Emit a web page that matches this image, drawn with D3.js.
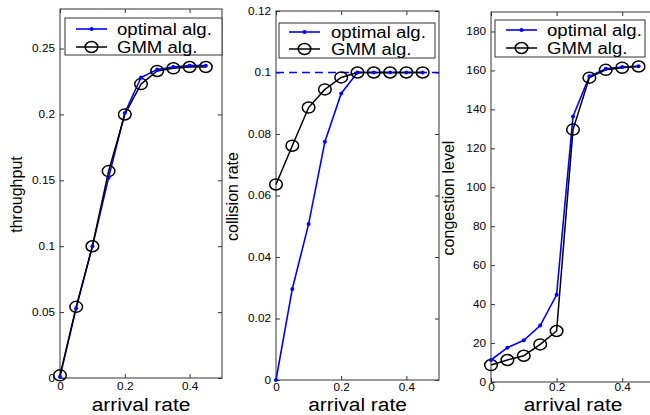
<!DOCTYPE html>
<html><head><meta charset="utf-8">
<script src="https://cdn.jsdelivr.net/npm/d3@7"></script>
<style>html,body{margin:0;padding:0;background:#fff;overflow:hidden}svg{display:block}text{font-family:"Liberation Sans",Arial,sans-serif;fill:#000}</style>
</head><body><svg id="c" width="650" height="415"></svg>
<script>
// ---- data ----
const arrivalRate=[0,0.05,0.1,0.15,0.2,0.25,0.3,0.35,0.4,0.45];
const throughputOptimal=[0.001,0.053,0.1,0.152,0.201,0.228,0.234,0.236,0.237,0.237];
const throughputGMM=[0.002,0.054,0.1,0.157,0.2,0.223,0.233,0.235,0.236,0.236];
const collisionOptimal=[0,0.0296,0.0507,0.0775,0.0932,0.1,0.1,0.1,0.1,0.1];
const collisionGMM=[0.0636,0.0762,0.0886,0.0945,0.0984,0.1,0.1,0.1,0.1,0.1];
const collisionCap=0.1;
const congestionOptimal=[11.3,17.6,21.4,29,44.8,136.4,157,160.8,161.7,162.2];
const congestionGMM=[8.7,11.3,13.5,19.3,26.2,129.6,156.3,160.3,161.4,162];
const xTicks=[0,0.2,0.4];
const xTickLabels=["0","0.2","0.4"];
const throughputTicks=[0,0.05,0.1,0.15,0.2,0.25];
const throughputTickLabels=["0","0.05","0.1","0.15","0.2","0.25"];
const collisionTicks=[0,0.02,0.04,0.06,0.08,0.1,0.12];
const collisionTickLabels=["0","0.02","0.04","0.06","0.08","0.1","0.12"];
const congestionTicks=[0,20,40,60,80,100,120,140,160,180];
const congestionTickLabels=["0","20","40","60","80","100","120","140","160","180"];
const legendLabels=["optimal alg.","GMM alg."];
const yLabels=["throughput","collision rate","congestion level"];
const xLabel="arrival rate";

// ---- layout ----
const svg=d3.select("#c");
const axisColor="#333";
const blue="#0000ff";
const panels=[
 {l:60,r:222,t:9,b:378,xmax:0.5,ymax:0.28,ticks:throughputTicks,tickLabels:throughputTickLabels,opt:throughputOptimal,gmm:throughputGMM,ylab:yLabels[0],ylx:22,xtOff:5,
  leg:{x:65,y:18,w:157,h:37,r1:29,r2:47,lx:76,tx:117}},
 {l:276,r:439,t:11,b:380,xmax:0.5,ymax:0.12,ticks:collisionTicks,tickLabels:collisionTickLabels,opt:collisionOptimal,gmm:collisionGMM,ylab:yLabels[1],ylx:238,cap:collisionCap,xtOff:4,
  leg:{x:279,y:23,w:156,h:35,r1:32,r2:49,lx:289,tx:331}},
 {l:491,r:655,t:12,b:382,xmax:0.5,ymax:190,ticks:congestionTicks,tickLabels:congestionTickLabels,opt:congestionOptimal,gmm:congestionGMM,ylab:yLabels[2],ylx:454,xtOff:2,
  leg:{x:495,y:20,w:150,h:37,r1:30,r2:48,lx:506,tx:547}}
];

function drawPanel(c){
  const x=d3.scaleLinear().domain([0,c.xmax]).range([c.l,c.r]);
  const y=d3.scaleLinear().domain([0,c.ymax]).range([c.b,c.t]);
  const g=svg.append("g");
  g.append("rect").attr("x",c.l).attr("y",c.t).attr("width",c.r-c.l).attr("height",c.b-c.t)
    .attr("fill","none").attr("stroke",axisColor).attr("stroke-width",1);

  const styleAxis=(sel)=>{sel.select(".domain").remove();sel.selectAll("line").attr("stroke",axisColor);sel.attr("font-family",null).attr("font-size",null);};
  // bottom
  const gb=g.append("g").attr("transform",`translate(0,${c.b})`)
    .call(d3.axisBottom(x).tickValues(xTicks).tickSize(-4).tickSizeOuter(0).tickFormat((d,i)=>xTickLabels[i]));
  styleAxis(gb);
  gb.selectAll("text").attr("y",0).attr("dy","0.71em").attr("font-size",10)
    .attr("transform",`translate(0,${c.xtOff}) scale(1.18,1)`);
  // top
  const gt=g.append("g").attr("transform",`translate(0,${c.t})`)
    .call(d3.axisTop(x).tickValues(xTicks).tickSize(-4).tickSizeOuter(0).tickFormat(""));
  styleAxis(gt);
  // left
  const gl=g.append("g").attr("transform",`translate(${c.l},0)`)
    .call(d3.axisLeft(y).tickValues(c.ticks).tickSize(-4).tickSizeOuter(0).tickFormat((d,i)=>c.tickLabels[i]));
  styleAxis(gl);
  gl.selectAll("text").attr("x",0).attr("dy","0.32em").attr("font-size",10).attr("text-anchor","end")
    .attr("transform","translate(-5,0) scale(1.18,1)");
  // right
  const gr=g.append("g").attr("transform",`translate(${c.r},0)`)
    .call(d3.axisRight(y).tickValues(c.ticks).tickSize(-4).tickSizeOuter(0).tickFormat(""));
  styleAxis(gr);

  // cap dashed line
  if(c.cap!==undefined){
    g.append("line").attr("x1",x(0)).attr("x2",x(c.xmax)).attr("y1",y(c.cap)).attr("y2",y(c.cap))
      .attr("stroke",blue).attr("stroke-width",1.4).attr("stroke-dasharray","8,5");
  }
  const line=d3.line().x((d,i)=>x(arrivalRate[i])).y(d=>y(d));
  // optimal
  g.append("path").datum(c.opt).attr("d",line).attr("fill","none").attr("stroke",blue).attr("stroke-width",1.6);
  // gmm
  g.append("path").datum(c.gmm).attr("d",line).attr("fill","none").attr("stroke","#000").attr("stroke-width",1.5);
  g.selectAll(".gm").data(c.gmm).join("ellipse").attr("cx",(d,i)=>x(arrivalRate[i])).attr("cy",d=>y(d))
    .attr("rx",6.3).attr("ry",5.5).attr("fill","none").attr("stroke","#000").attr("stroke-width",1.5);
  g.selectAll(".op").data(c.opt).join("circle").attr("cx",(d,i)=>x(arrivalRate[i])).attr("cy",d=>y(d))
    .attr("r",2).attr("fill",blue);

  // legend
  const L=c.leg;
  g.append("rect").attr("x",L.x).attr("y",L.y).attr("width",L.w).attr("height",L.h)
    .attr("fill","#fff").attr("stroke",axisColor).attr("stroke-width",1);
  const lw=31;
  g.append("line").attr("x1",L.lx).attr("x2",L.lx+lw).attr("y1",L.r1).attr("y2",L.r1).attr("stroke",blue).attr("stroke-width",1.6);
  g.append("circle").attr("cx",L.lx+lw/2).attr("cy",L.r1).attr("r",2).attr("fill",blue);
  g.append("line").attr("x1",L.lx).attr("x2",L.lx+lw).attr("y1",L.r2).attr("y2",L.r2).attr("stroke","#000").attr("stroke-width",1.5);
  g.append("ellipse").attr("cx",L.lx+lw/2).attr("cy",L.r2).attr("rx",6.3).attr("ry",5.5).attr("fill","none").attr("stroke","#000").attr("stroke-width",1.5);
  [L.r1,L.r2].forEach((ry,i)=>{
    g.append("text").attr("transform",`translate(${L.tx},${ry}) scale(1.16,1)`).attr("dy","0.36em")
      .attr("font-size",16).text(legendLabels[i]);
  });

  // labels
  g.append("text").attr("transform",`translate(${(c.l+c.r)/2},410.5) scale(1.1,1)`).attr("text-anchor","middle")
    .attr("font-size",19).text(xLabel);
  g.append("text").attr("transform",`translate(${c.ylx},${(c.t+c.b)/2+1}) rotate(-90)`).attr("text-anchor","middle")
    .attr("font-size",16).text(c.ylab);
}
panels.forEach(drawPanel);
</script></body></html>
